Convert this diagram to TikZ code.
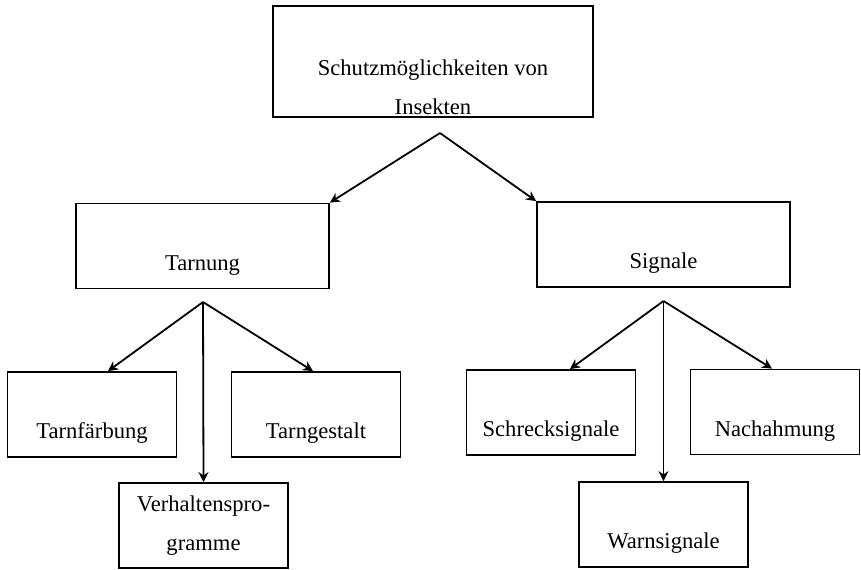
\documentclass[tikz,border=0pt]{standalone}
\usepackage{fontspec}
\setmainfont{Liberation Serif}
\usetikzlibrary{arrows.meta}

\tikzset{
	kasten/.style={draw, line width=0.9pt, inner sep=0pt, minimum height=42.5pt, text height=24pt, text depth=0pt, font=\fontsize{11.3}{19.5}\selectfont},
	breit/.style={kasten, minimum width=126.5pt},
	schmal/.style={kasten, minimum width=84.5pt},
	pfeil/.style={line width=0.9pt, -{Stealth[length=5pt, width=5pt]}}
}

\begin{document}
\begin{tikzpicture}[x=0.5pt, y=-0.5pt]
			\useasboundingbox (0,0) rectangle (861,569);
			\node[kasten, minimum width=160pt, minimum height=55.5pt, align=center, text height=52.5pt] (schutz) at (433,61.5) {Schutzmöglichkeiten von\\Insekten};
			\node[breit] (tarnung) at (202.5,246) {Tarnung};
			\node[breit] (signale) at (663.5,244.5) {Signale};
			\node[schmal] (faerbung) at (92,414.5) {Tarnfärbung};
			\node[schmal] (gestalt) at (316,414.5) {Tarngestalt};
			\node[schmal, align=center, text height=25pt] (verhalten) at (203.5,525.5) {Verhaltenspro-\\gramme};
			\node[schmal] (schreck) at (551,412.5) {Schrecksignale};
			\node[schmal] (nachahmung) at (775,412) {Nachahmung};
			\node[schmal] (warn) at (663.5,524.5) {Warnsignale};
			\coordinate (g1) at (440,133);
			\coordinate (g2) at (203,302);
			\coordinate (g3) at (663.5,301);
			\draw[pfeil] (g1) -- (tarnung.north east);
			\draw[pfeil] (g1) -- (signale.north west);
			\draw[pfeil] (g2) -- ([xshift=8pt]faerbung.north);
			\draw[pfeil] (g2) -- ([xshift=-1.5pt]gestalt.north);
			\draw[pfeil] (g2) -- (verhalten.north);
			\draw[pfeil] (g3) -- ([xshift=9.5pt]schreck.north);
			\draw[pfeil] (g3) -- ([xshift=-1.5pt]nachahmung.north);
			\draw[pfeil] (g3) -- (warn.north);
\end{tikzpicture}
\end{document}
